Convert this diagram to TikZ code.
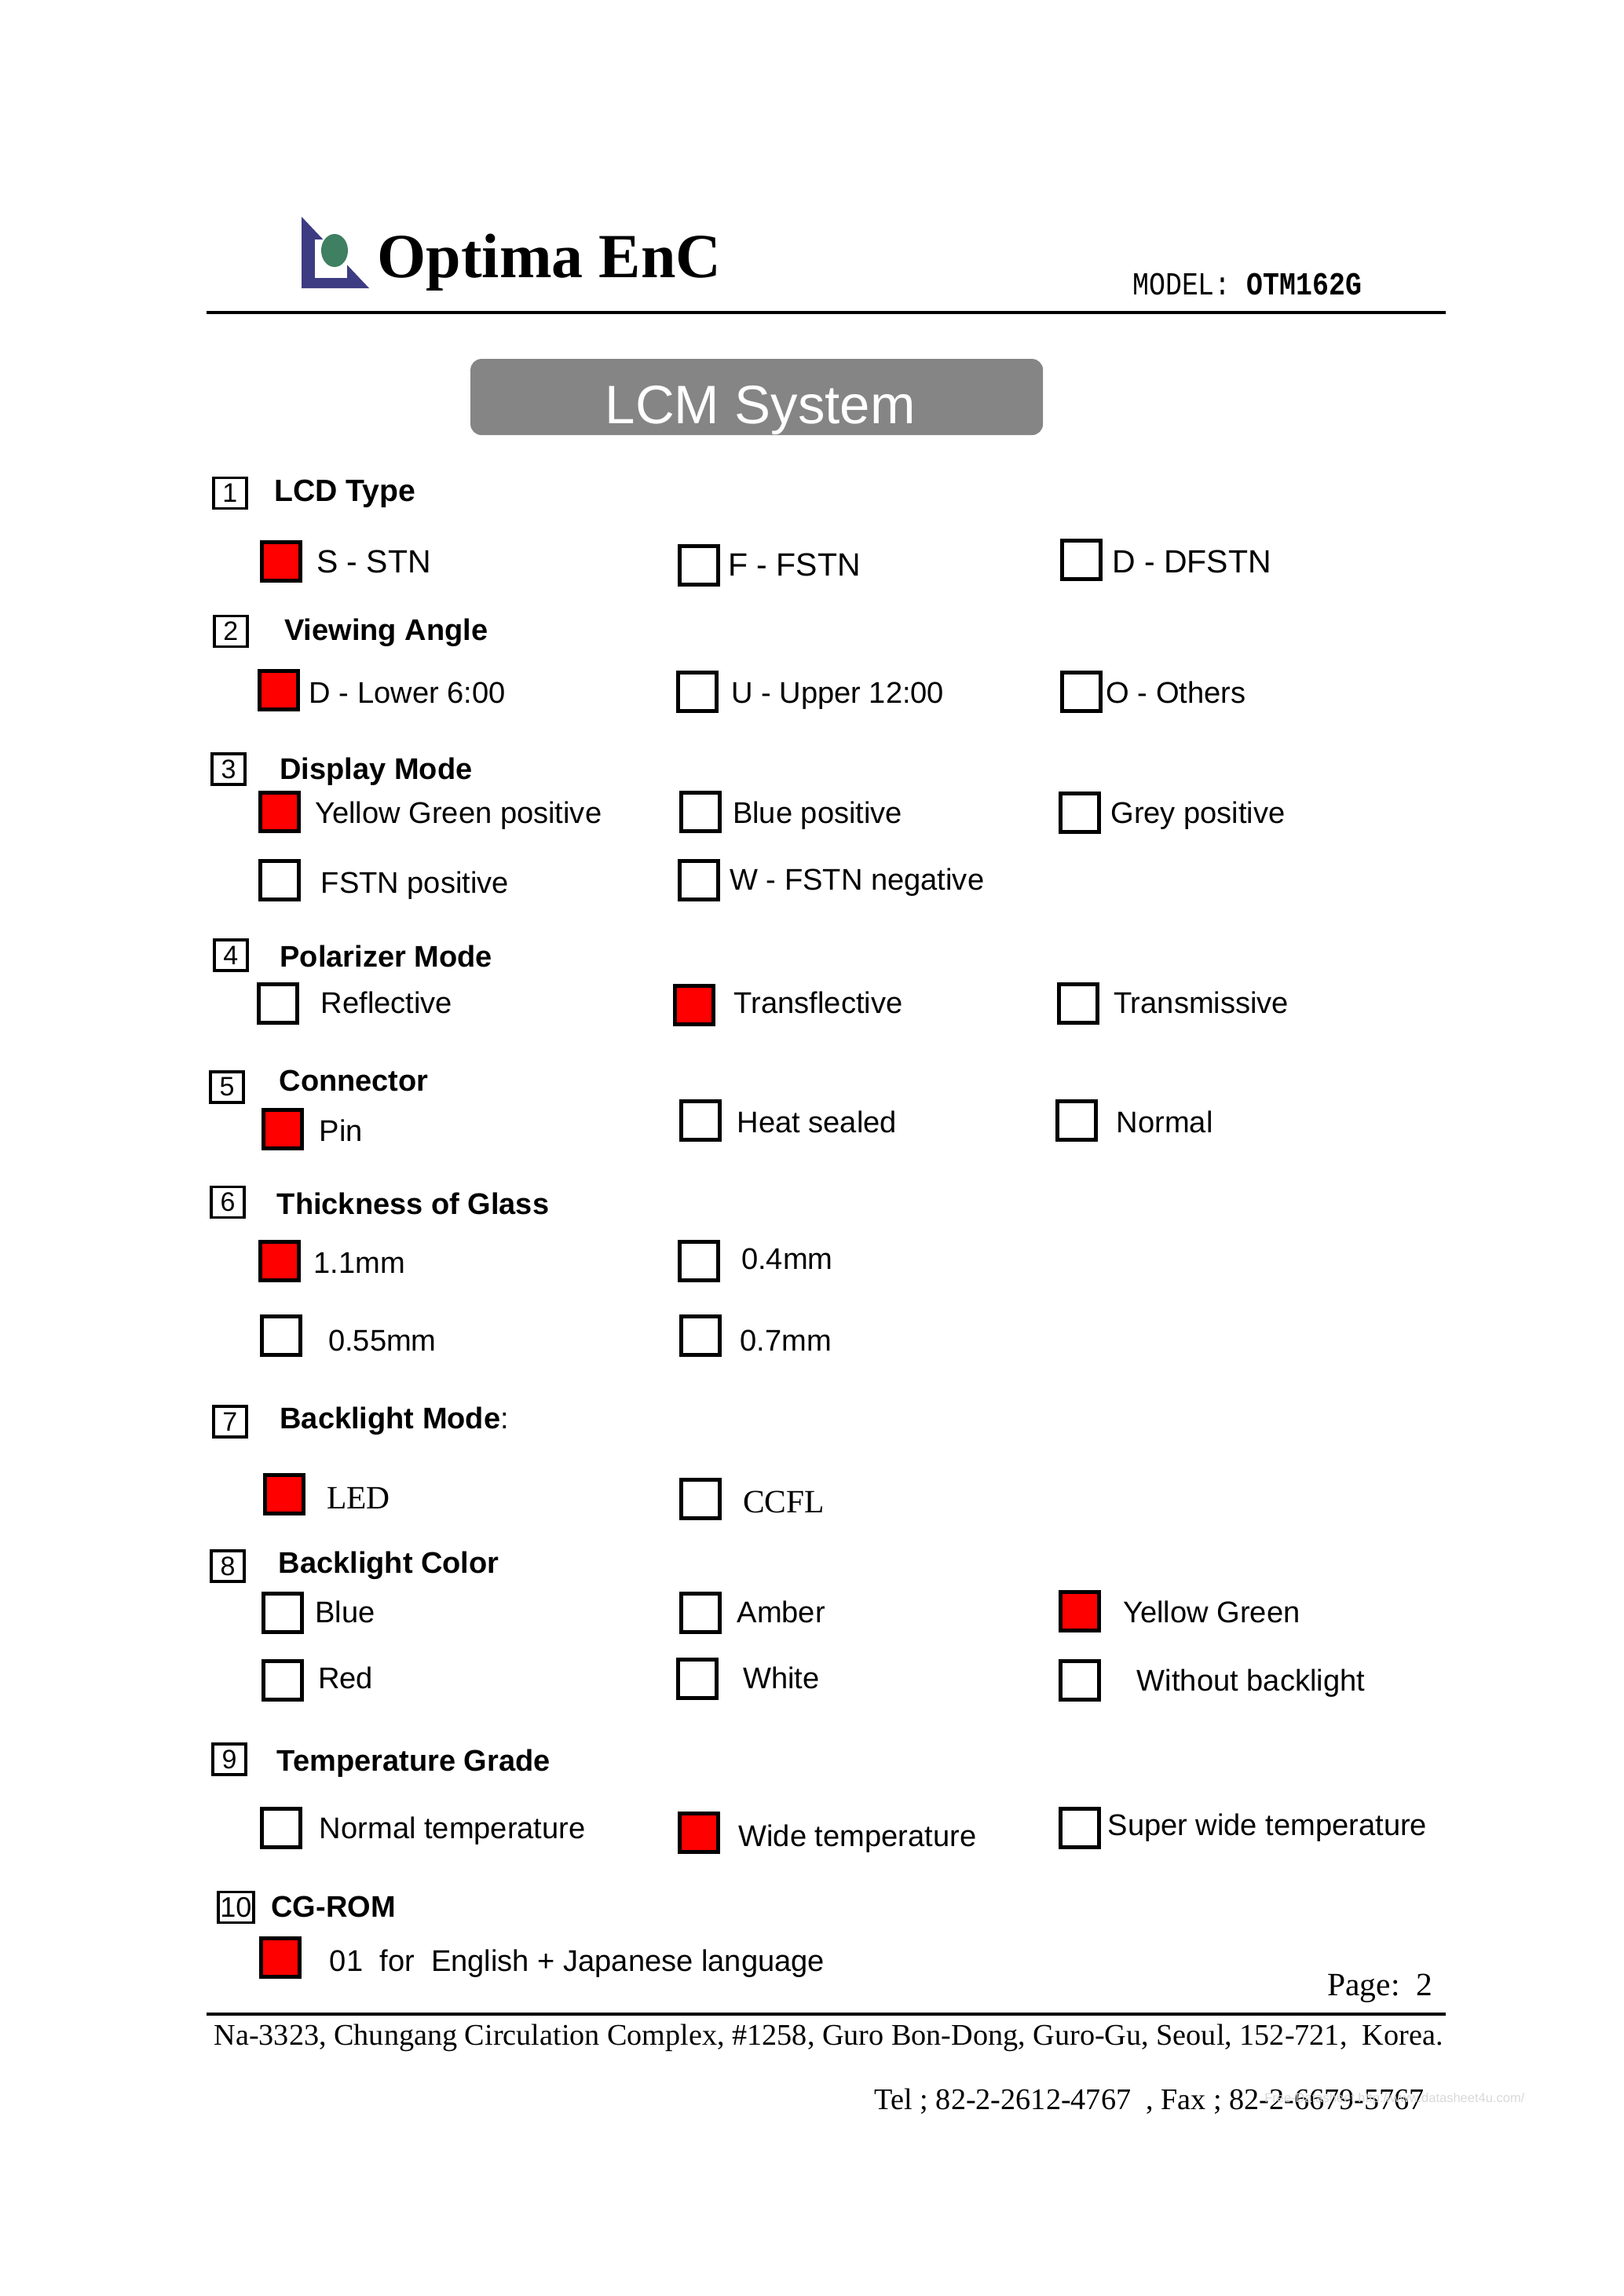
\documentclass[tikz,border=0pt]{standalone}
\usepackage{fontspec}
\setmainfont{Liberation Serif}
\setsansfont{Liberation Sans}
\newfontfamily\modelfont[FakeStretch=0.85]{Liberation Mono}
\definecolor{logoblue}{HTML}{3D3B82}
\definecolor{logogreen}{HTML}{3F7F62}
\definecolor{bargray}{HTML}{858585}
\tikzset{
  rulebar/.style={line width=4pt,black},
  txt/.style={anchor=base west,inner sep=0pt,font=\sffamily\fontsize{38.1}{40}\selectfont},
  txtbig/.style={anchor=base west,inner sep=0pt,font=\sffamily\fontsize{41}{43}\selectfont},
  head/.style={anchor=base west,inner sep=0pt,font=\sffamily\bfseries\fontsize{38}{40}\selectfont},
  headbig/.style={anchor=base west,inner sep=0pt,font=\sffamily\bfseries\fontsize{39.2}{41}\selectfont},
  serif/.style={anchor=base west,inner sep=0pt,font=\rmfamily\fontsize{38.2}{40}\selectfont},
  serifbig/.style={anchor=base west,inner sep=0pt,font=\rmfamily\fontsize{41.5}{43}\selectfont},
  numbox/.style={draw,line width=3.5pt,rectangle,minimum width=42pt,minimum height=39pt,inner sep=0pt,font=\sffamily\fontsize{34}{36}\selectfont},
  boxoff/.style={draw,line width=5pt,rectangle,minimum width=49pt,minimum height=49pt,inner sep=0pt},
  boxon/.style={boxoff,fill=red},
}
\begin{document}
\begin{tikzpicture}[x=1.8656pt,y=-1.8656pt]
\useasboundingbox[fill=white] (0,0) rectangle (1108,1567.3);
% logo
\begin{scope}[x=1pt,y=-1pt]
\fill[logoblue] (384,276) -- (470,367) -- (384,367) -- cycle;
\fill[white] (401,305) rectangle (442,354);
\fill[logogreen] (426,319) ellipse (17 and 21);
\end{scope}
\node[anchor=base west,inner sep=0pt,font=\rmfamily\bfseries\fontsize{80}{82}\selectfont] (brand) at (257.5,189.5) {Optima EnC};
\node[anchor=base west,inner sep=0pt,font=\modelfont\fontsize{41}{43}\selectfont] (model) at (773,201.5) {MODEL:\hspace{20pt}\textbf{OTM162G}};
\coordinate (tl) at (141,213.5); \coordinate (tr) at (987,213.5);
\draw[rulebar] (tl) -- (tr);
\node[fill=bargray,rounded corners=14pt,minimum width=729pt,minimum height=97pt,inner sep=0pt] (bar) at (516.5,271) {};
\node[anchor=base west,inner sep=0pt,text=white,font=\sffamily\fontsize{69}{71}\selectfont] (title) at (413,289) {LCM System};
% 1
\node[numbox] (n1) at (157,336.5) {1};
\node[headbig] (h1) at (187,342.5) {LCD Type};
\node[boxon] (b1a) at (192,383.5) {}; \node[txtbig] (t1a) at (216,391) {S - STN};
\node[boxoff] (b1b) at (477,386) {}; \node[txtbig] (t1b) at (497,393) {F - FSTN};
\node[boxoff] (b1c) at (738,382) {}; \node[txtbig] (t1c) at (759,391) {D - DFSTN};
% 2
\node[numbox] (n2) at (157.5,431) {2};
\node[head] (h2) at (194,437) {Viewing Angle};
\node[boxon] (b2a) at (190.5,471) {}; \node[txt] (t2a) at (211,480) {D - Lower 6:00};
\node[boxoff] (b2b) at (476,472) {}; \node[txt] (t2b) at (499,480) {U - Upper 12:00};
\node[boxoff] (b2c) at (738,472) {}; \node[txt] (t2c) at (755,480) {O - Others};
% 3
\node[numbox] (n3) at (156,525) {3};
\node[head] (h3) at (191,532) {Display Mode};
\node[boxon] (b3a) at (191,554) {}; \node[txt] (t3a) at (215,562) {Yellow Green positive};
\node[boxoff] (b3b) at (478,554) {}; \node[txt] (t3b) at (500,562) {Blue positive};
\node[boxoff] (b3c) at (737,555) {}; \node[txt] (t3c) at (758,562) {Grey positive};
\node[boxoff] (b3d) at (191,601) {}; \node[txt] (t3d) at (219,609.5) {FSTN positive};
\node[boxoff] (b3e) at (477,601) {}; \node[txt] (t3e) at (498,607.5) {W - FSTN negative};
% 4
\node[numbox] (n4) at (157.5,652) {4};
\node[head] (h4) at (191,660) {Polarizer Mode};
\node[boxoff] (b4a) at (190,685) {}; \node[txt] (t4a) at (219,691.5) {Reflective};
\node[boxon] (b4b) at (474,686) {}; \node[txt] (t4b) at (501,691.5) {Transflective};
\node[boxoff] (b4c) at (736,685) {}; \node[txt] (t4c) at (760,691.5) {Transmissive};
% 5
\node[numbox] (n5) at (155,742) {5};
\node[head] (h5) at (190.5,745) {Connector};
\node[boxon] (b5a) at (193,771) {}; \node[txt] (t5a) at (218,779) {Pin};
\node[boxoff] (b5b) at (478,765) {}; \node[txt] (t5b) at (503,773) {Heat sealed};
\node[boxoff] (b5c) at (735,765) {}; \node[txt] (t5c) at (762,773) {Normal};
% 6
\node[numbox] (n6) at (155.5,820.5) {6};
\node[head] (h6) at (189,829) {Thickness of Glass};
\node[boxon] (b6a) at (191,861) {}; \node[txt] (t6a) at (214,869) {1.1mm};
\node[boxoff] (b6b) at (477,861) {}; \node[txt] (t6b) at (506,866.5) {0.4mm};
\node[boxoff] (b6c) at (192,912) {}; \node[txt] (t6c) at (224,922) {0.55mm};
\node[boxoff] (b6d) at (478,912) {}; \node[txt] (t6d) at (505,922) {0.7mm};
% 7
\node[numbox] (n7) at (157,970.5) {7};
\node[head] (h7) at (191,975) {Backlight Mode\textmd{:}};
\node[boxon] (b7a) at (194,1020) {}; \node[serifbig] (t7a) at (223,1030) {LED};
\node[boxoff] (b7b) at (478,1023) {}; \node[serifbig] (t7b) at (507,1032.5) {CCFL};
% 8
\node[numbox] (n8) at (155.5,1069) {8};
\node[head] (h8) at (190,1074) {Backlight Color};
\node[boxoff] (b8a) at (193,1101) {}; \node[txt] (t8a) at (215,1107.5) {Blue};
\node[boxoff] (b8b) at (478,1101) {}; \node[txt] (t8b) at (503,1107.5) {Amber};
\node[boxon] (b8c) at (737,1100) {}; \node[txt] (t8c) at (766.5,1107.5) {Yellow Green};
\node[boxoff] (b8d) at (193,1147) {}; \node[txt] (t8d) at (217,1152.5) {Red};
\node[boxoff] (b8e) at (476,1146) {}; \node[txt] (t8e) at (507,1152.5) {White};
\node[boxoff] (b8f) at (737,1147) {}; \node[txt] (t8f) at (776,1154.5) {Without backlight};
% 9
\node[numbox] (n9) at (156.5,1201) {9};
\node[head] (h9) at (189,1209) {Temperature Grade};
\node[boxoff] (b9a) at (192,1248) {}; \node[txt] (t9a) at (218,1255) {Normal temperature};
\node[boxon] (b9b) at (477,1251) {}; \node[txt] (t9b) at (504,1260.5) {Wide temperature};
\node[boxoff] (b9c) at (737,1248) {}; \node[txt] (t9c) at (756,1253) {Super wide temperature};
% 10
\node[numbox,minimum width=45pt,font=\sffamily\fontsize{36}{38}\selectfont] (n10) at (161,1302) {10};
\node[head] (h10) at (185,1308.5) {CG-ROM};
\node[boxon] (b10a) at (191.5,1336) {}; \node[txt] (t10a) at (225,1345.5) {01\ \ for\ \ English + Japanese language};
% footer
\node[serifbig] (page) at (906,1362.5) {Page:\ \ 2};
\coordinate (bl) at (141,1375); \coordinate (br) at (987,1375);
\draw[rulebar] (bl) -- (br);
\node[serif] (addr) at (146,1396) {Na-3323, Chungang Circulation Complex, \#1258, Guro Bon-Dong, Guro-Gu, Seoul, 152-721,\ \ Korea.};
\node[serif] (tel) at (597,1440) {Tel ; 82-2-2612-4767\ \ , Fax ; 82-2-6679-5767};
\node[anchor=base west,inner sep=0pt,text=black!15,font=\sffamily\fontsize{16.5}{18}\selectfont] (mark) at (863,1435) {Free-Datasheet http://www.datasheet4u.com/};
\end{tikzpicture}
\end{document}
